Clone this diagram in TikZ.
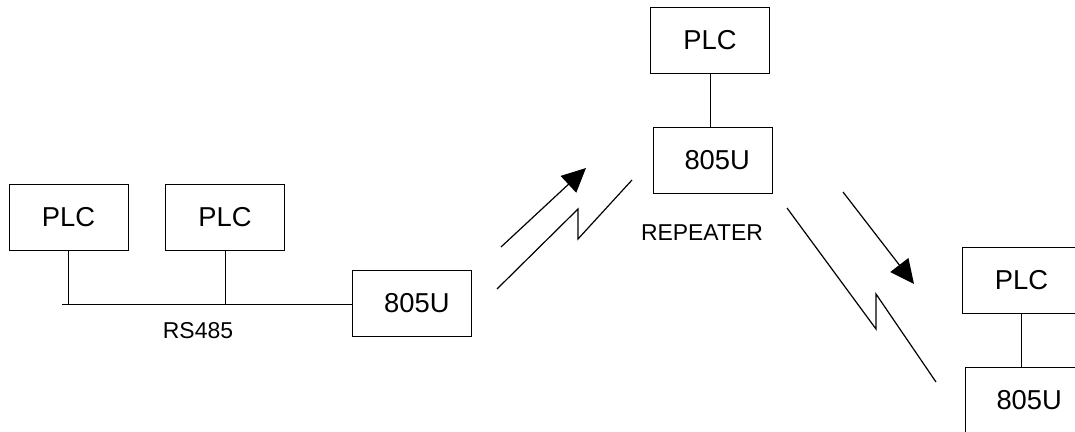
\documentclass[tikz,border=0pt]{standalone}
\usepackage{fontspec}
\setmainfont{Liberation Sans}
\usetikzlibrary{arrows.meta}
\begin{document}
\begin{tikzpicture}[x=0.75pt,y=-0.75pt,
  box/.style={draw,line width=0.75pt,minimum width=89.25pt,minimum height=49.5pt,inner sep=0pt,
    font=\fontsize{20.5}{24}\selectfont},
  lbl/.style={font=\fontsize{17.2}{20}\selectfont,inner sep=0pt},
  wire/.style={line width=0.75pt},
  radio/.style={line width=0.9pt,line join=miter},
  sig/.style={line width=0.9pt,-{Triangle[length=18pt,width=17pt]}}]
\useasboundingbox (0,0) rectangle (1075,432);
\clip (0,0) rectangle (1075,432);
% boxes
\node[box] (plc1) at (68.5,217) {PLC};
\node[box] (plc2) at (225,217) {PLC};
\node[box] (u1) at (411.5,303.5) {\hspace{8pt}805U};
\node[box] (plcr) at (710,40) {PLC};
\node[box] (ur) at (712.5,160) {\hspace{7pt}805U};
\node[box] (plcb) at (1021.5,280) {PLC};
\node[box] (ub) at (1024.5,400) {\hspace{7pt}805U};
% labels
\node[lbl] (rs) at (198,331) {RS485};
\node[lbl] (rep) at (702,233) {REPEATER};
% bus
\coordinate (busL) at (62,304);
\draw[wire] (busL) -- (busL -| u1.west);
\draw[wire] (plc1.south) -- (plc1.south |- busL);
\draw[wire] (plc2.south) -- (plc2.south |- busL);
\draw[wire] (plcr.south) -- (plcr.south |- ur.north);
\draw[wire] (plcb.south) -- (plcb.south |- ub.north);
% radio links
\coordinate (a1s) at (501,247);
\coordinate (a1e) at (586,168);
\draw[sig] (a1s) -- (a1e);
\coordinate (z1a) at (497,289);
\coordinate (z1b) at (578,209);
\coordinate (z1c) at (578,239);
\coordinate (z1d) at (632,180);
\draw[radio] (z1a) -- (z1b) -- (z1c) -- (z1d);
\coordinate (a2s) at (843,192);
\coordinate (a2e) at (914,284);
\draw[sig] (a2s) -- (a2e);
\coordinate (z2a) at (787,208);
\coordinate (z2b) at (876,329);
\coordinate (z2c) at (876,294);
\coordinate (z2d) at (936,382);
\draw[radio] (z2a) -- (z2b) -- (z2c) -- (z2d);
\end{tikzpicture}
\end{document}
